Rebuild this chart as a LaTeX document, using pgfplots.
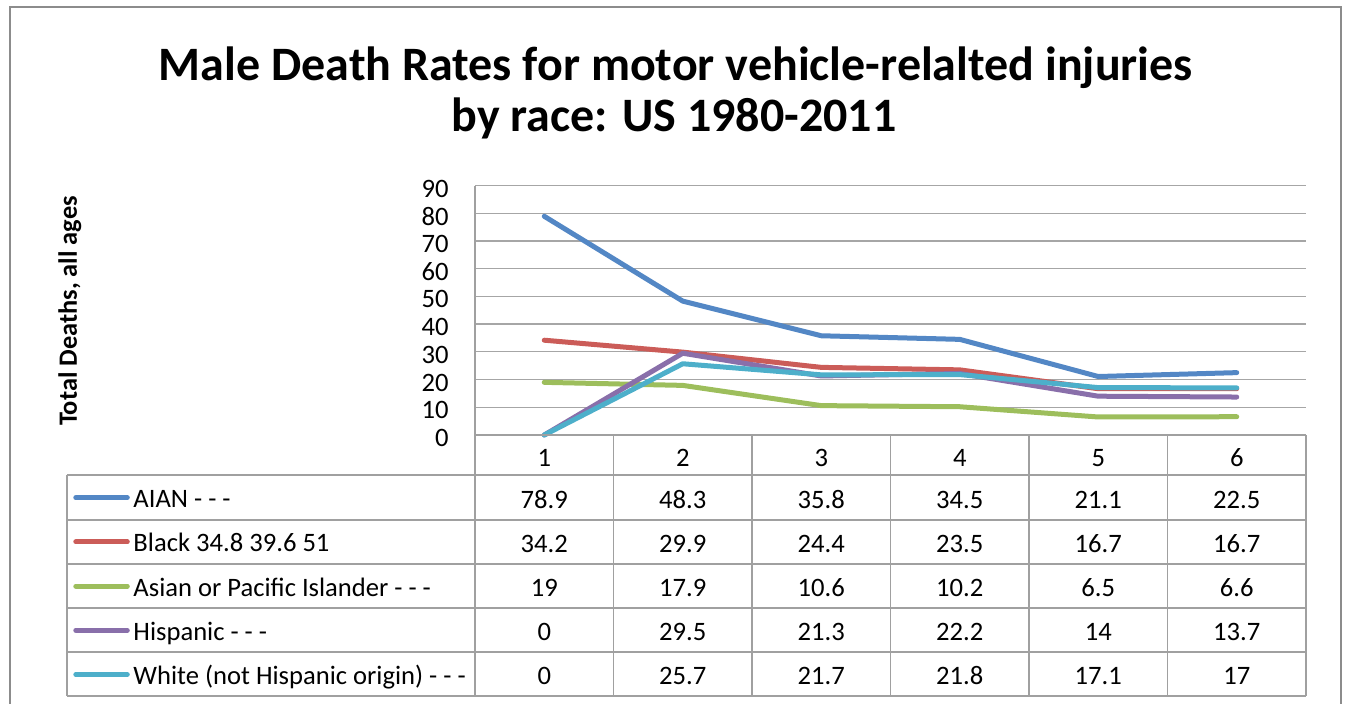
\documentclass[border=0pt]{standalone}
\usepackage{pgfplots}
\pgfplotsset{compat=1.18}
\usepackage{fontspec}
\setmainfont{Carlito}
\definecolor{cA}{RGB}{83,135,197}
\definecolor{cB}{RGB}{203,92,88}
\definecolor{cC}{RGB}{157,190,92}
\definecolor{cD}{RGB}{137,111,170}
\definecolor{cE}{RGB}{77,175,202}
\definecolor{gridc}{RGB}{166,166,166}
\definecolor{tabc}{RGB}{160,160,160}
\definecolor{framec}{RGB}{140,140,140}
\begin{document}
\begin{tikzpicture}
\begin{axis}[
  scale only axis, width=415.5pt, height=124.75pt,
  xmin=0.5, xmax=6.5, ymin=0, ymax=90,
  ytick={0,10,...,90}, xtick={1,...,6},
  ymajorgrids, grid style={gridc, line width=0.65pt},
  axis line style={draw=none},
  major tick length=0pt,
  clip=false,
  /pgf/number format/assume math mode=true,
  tick label style={font=\fontsize{13.3}{15}\selectfont},
  yticklabel style={anchor=east, inner sep=0pt, xshift=-13pt, yshift=-1.5pt},
  xticklabel style={anchor=base, inner sep=0pt, yshift=-15.75pt},
  legend cell align=left,
  legend image code/.code={\draw[#1, line cap=round] (0pt,0pt) -- (25.75pt,0pt);},
  legend style={at={(axis description cs:-0.4834,-0.1848)}, anchor=north west,
    draw=none, fill=none, inner sep=0pt, outer sep=0pt,
    row sep=5.5pt, column sep=1.85pt,
    nodes={inner sep=0pt, text height=13.3pt, text depth=3.3pt, font=\fontsize{13.3}{15}\selectfont}},
  every axis plot/.append style={line width=2.5pt, line cap=round, line join=round},
]
\addplot[cA] coordinates {(1,78.9) (2,48.3) (3,35.8) (4,34.5) (5,21.1) (6,22.5)};
\addlegendentry{AIAN - - -}
\addplot[cB] coordinates {(1,34.2) (2,29.9) (3,24.4) (4,23.5) (5,16.7) (6,16.7)};
\addlegendentry{Black 34.8 39.6 51}
\addplot[cC] coordinates {(1,19) (2,17.9) (3,10.6) (4,10.2) (5,6.5) (6,6.6)};
\addlegendentry{Asian or Pacific Islander - - -}
\addplot[cD] coordinates {(1,0) (2,29.5) (3,21.3) (4,22.2) (5,14) (6,13.7)};
\addlegendentry{Hispanic - - -}
\addplot[cE] coordinates {(1,0) (2,25.7) (3,21.7) (4,21.8) (5,17.1) (6,17)};
\addlegendentry{White (not Hispanic origin) - - -}
\end{axis}
\begin{scope}[x=0.5pt, y=-0.5pt, shift={(-237.5pt,217.5pt)}]
  % chart frame
  \draw[framec, line width=0.7pt] (10,7) rectangle (1341,730);
  % title
  \node[anchor=base, font=\fontsize{24}{28}\selectfont\bfseries] at (676,80) {Male Death Rates for motor vehicle-relalted injuries};
  \node[anchor=base, font=\fontsize{24}{28}\selectfont\bfseries] at (674,131.7) {by race: US 1980-2011};
  % y label
  \node[anchor=base, rotate=90, font=\fontsize{13.2}{15}\selectfont\bfseries, inner sep=0pt] at (77,311) {Total Deaths, all ages};
  % data table lines
  \begin{scope}[tabc, line width=0.7pt]
    \foreach \y in {475,520,564,608,652,696} \draw (67,\y) -- (1306,\y);
    \draw (475,435) -- (1306,435);
    \draw (67,475) -- (67,696);
    \draw (475,186) -- (475,696);
    \foreach \k in {1,...,6} \draw ({475+138.5*\k},435) -- ({475+138.5*\k},696);
  \end{scope}
  % data table values
  \foreach \yb/\vals in {508/{78.9,48.3,35.8,34.5,21.1,22.5},
                         552.5/{34.2,29.9,24.4,23.5,16.7,16.7},
                         596.5/{19,17.9,10.6,10.2,6.5,6.6},
                         640.5/{0,29.5,21.3,22.2,14,13.7},
                         684.5/{0,25.7,21.7,21.8,17.1,17}}{
    \foreach \v [count=\c] in \vals {
      \node[anchor=base, inner sep=0pt, font=\fontsize{13.3}{15}\selectfont] at ({475+138.5*(\c-0.5)},\yb) {\v};
    }
  }
  \pgfresetboundingbox
  \path[use as bounding box] (0,0) rectangle (1347,703);
\end{scope}
\end{tikzpicture}
\end{document}
